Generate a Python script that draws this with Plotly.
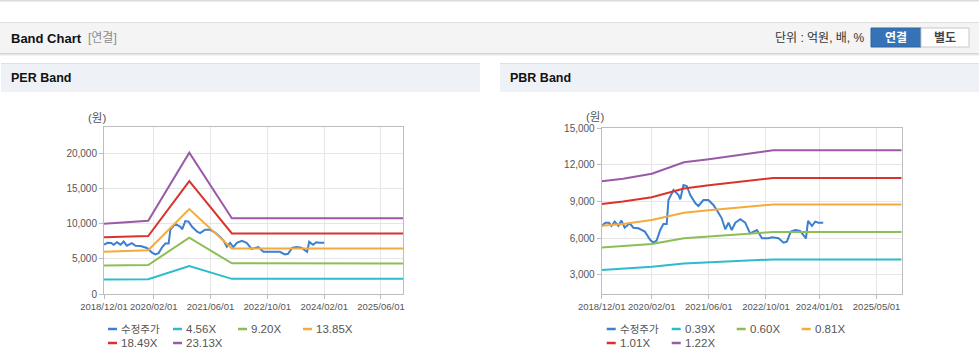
import plotly.graph_objects as go

W, H = 979, 361

# ---------------- data ----------------
price_dates = ["2018-12-01", "2019-01-01", "2019-02-01", "2019-02-22", "2019-03-22", "2019-04-22",
               "2019-05-18", "2019-06-15", "2019-07-28", "2019-08-28", "2019-10-10", "2019-12-04",
               "2020-01-19", "2020-02-15", "2020-03-13", "2020-04-13", "2020-05-10", "2020-06-07",
               "2020-06-22", "2020-08-04", "2020-09-16", "2020-10-01", "2020-10-28", "2020-11-25",
               "2020-12-25", "2021-02-07", "2021-03-04", "2021-04-16", "2021-05-28", "2021-07-10",
               "2021-08-22", "2021-09-19", "2021-10-19", "2021-11-16", "2021-12-13", "2022-01-13",
               "2022-02-25", "2022-04-07", "2022-05-19", "2022-06-16", "2022-07-16", "2022-08-28",
               "2022-10-22", "2022-11-22", "2023-01-16", "2023-02-28", "2023-03-28", "2023-05-01",
               "2023-06-07", "2023-07-19", "2023-08-16", "2023-09-07", "2023-09-25", "2023-10-28",
               "2023-11-25", "2023-12-22", "2024-02-01"]
price_values = [6990, 7260, 7250, 6990, 7345, 7000,
                7430, 6850, 7210, 6850, 6800, 6530,
                5840, 5620, 5800, 6660, 7150, 7150,
                9120, 9940, 9530, 9180, 10350, 10270,
                9530, 8850, 8630, 9120, 9120, 8710,
                8080, 7620, 6720, 7260, 6660, 7260,
                7540, 7260, 6390, 6530, 6660, 5980,
                5980, 6060, 5980, 5620, 5710, 6530,
                6660, 6580, 6250, 5980, 7400, 6990,
                7345, 7260, 7260]

per_band_dates = ["2018-12-01", "2019-12-15", "2020-12-01", "2021-12-01", "2025-12-07"]
per_456 = [2060, 2090, 3970, 2150, 2150]
per_920 = [4030, 4120, 7990, 4350, 4330]
per_1385 = [6000, 6200, 12050, 6470, 6450]
per_1849 = [8040, 8230, 16020, 8600, 8580]
per_2313 = [9970, 10390, 20040, 10730, 10730]

pbr_band_dates = ["2018-12-01", "2019-06-01", "2020-02-01", "2020-11-01", "2021-06-01",
                  "2021-12-01", "2022-09-01", "2022-12-01", "2025-12-01"]
pbr_039 = [3390, 3490, 3650, 3910, 4010, 4100, 4210, 4250, 4250]
pbr_060 = [5220, 5350, 5520, 5980, 6140, 6260, 6430, 6490, 6490]
pbr_081 = [7000, 7150, 7480, 8080, 8280, 8450, 8680, 8760, 8760]
pbr_101 = [8800, 8990, 9340, 10060, 10330, 10540, 10830, 10920, 10920]
pbr_122 = [10650, 10870, 11280, 12210, 12460, 12730, 13080, 13190, 13190]

per_names = ["수정주가", "4.56X", "9.20X", "13.85X", "18.49X", "23.13X"]
pbr_names = ["수정주가", "0.39X", "0.60X", "0.81X", "1.01X", "1.22X"]

per_xtick_vals = ["2018-12-01", "2020-02-01", "2021-06-01", "2022-10-01", "2024-02-01", "2025-06-01"]
per_xtick_text = ["2018/12/01", "2020/02/01", "2021/06/01", "2022/10/01", "2024/02/01", "2025/06/01"]
pbr_xtick_vals = ["2018-12-01", "2020-02-01", "2021-06-01", "2022-10-01", "2024-01-01", "2025-05-01"]
pbr_xtick_text = ["2018/12/01", "2020/02/01", "2021/06/01", "2022/10/01", "2024/01/01", "2025/05/01"]
per_ytick_vals = [0, 5000, 10000, 15000, 20000]
pbr_ytick_vals = [3000, 6000, 9000, 12000, 15000]

colors = ["#3d7fd0", "#2cbccb", "#8dbe55", "#f4aa3c", "#d9332c", "#9a5aa8"]

# ---------------- figure ----------------
def px(x):
    return x / W

def py(y):
    return 1 - y / H

fig = go.Figure()

per_series = [(price_dates, price_values)] + [(per_band_dates, v) for v in
                                              [per_456, per_920, per_1385, per_1849, per_2313]]
pbr_series = [(price_dates, price_values)] + [(pbr_band_dates, v) for v in
                                              [pbr_039, pbr_060, pbr_081, pbr_101, pbr_122]]

for (xs, ys), name, c in zip(per_series, per_names, colors):
    fig.add_trace(go.Scatter(x=xs, y=ys, name=name, mode="lines",
                             line=dict(color=c, width=2), xaxis="x", yaxis="y", showlegend=False))
for (xs, ys), name, c in zip(pbr_series, pbr_names, colors):
    fig.add_trace(go.Scatter(x=xs, y=ys, name=name, mode="lines",
                             line=dict(color=c, width=2), xaxis="x2", yaxis="y2", showlegend=False))

axis_common = dict(showgrid=True, gridcolor="#e6e6e6", gridwidth=1, showline=True,
                   linecolor="#bdbdbd", linewidth=1, mirror=True, ticks="outside",
                   ticklen=4, tickcolor="#bdbdbd", zeroline=False, fixedrange=True)
tick_font_x = dict(family="Liberation Sans, Arial, sans-serif", size=9.5, color="#555")
tick_font_y = dict(family="Liberation Sans, Arial, sans-serif", size=10, color="#555")

fig.update_layout(
    width=W, height=H, autosize=False,
    margin=dict(l=0, r=0, t=0, b=0, pad=0, autoexpand=False),
    paper_bgcolor="white", plot_bgcolor="white",
    xaxis=dict(domain=[px(104), px(403)], type="date", range=["2018-12-01", "2025-12-07"],
               tickvals=per_xtick_vals, ticktext=per_xtick_text, tickfont=tick_font_x,
               tickangle=0, anchor="y", **axis_common),
    yaxis=dict(domain=[py(294), py(127)], range=[0, 23690], tickvals=per_ytick_vals,
               tickformat=",", tickfont=tick_font_y, anchor="x", **axis_common),
    xaxis2=dict(domain=[px(601.7), px(901.7)], type="date", range=["2018-12-01", "2025-12-01"],
                tickvals=pbr_xtick_vals, ticktext=pbr_xtick_text, tickfont=tick_font_x,
                tickangle=0, anchor="y2", **axis_common),
    yaxis2=dict(domain=[py(294), py(128.3)], range=[1412, 15000], tickvals=pbr_ytick_vals,
                tickformat=",", tickfont=tick_font_y, anchor="x2", **axis_common),
    showlegend=False,
)

shapes = []
annots = []

def rect(x0, y0, x1, y1, fill, line=None):
    shapes.append(dict(type="rect", xref="paper", yref="paper", x0=px(x0), x1=px(x1),
                       y0=py(y1), y1=py(y0), fillcolor=fill,
                       line=dict(color=line if line else fill, width=1 if line else 0),
                       layer="below"))

def text(x, y, s, size=12, color="#222", anchor="left", bold=False,
         family="Liberation Sans, Noto Sans CJK KR, sans-serif"):
    annots.append(dict(xref="paper", yref="paper", x=px(x), y=py(y), text=("<b>%s</b>" % s) if bold else s,
                       showarrow=False, xanchor=anchor, yanchor="middle", borderpad=0,
                       font=dict(size=size, color=color, family=family)))

# page decorations
rect(0, 0, 979, 1.5, "#dcdcdc")
rect(0, 22, 979, 53, "#f4f4f4")
rect(0, 22, 979, 23, "#dedede")
rect(0, 53, 979, 54, "#d4d4d4")
rect(0, 54, 979, 55, "#e6e6e6")
rect(0, 55, 979, 56, "#f2f2f2")
text(10, 38, "Band Chart", size=13, color="#111", bold=True)
text(87, 38, "[연결]", size=12, color="#8c8c8c")
text(866, 38, "단위 : 억원, 배, %", size=12, color="#333", anchor="right")
rect(871, 28, 921, 47, "#3573b6", "#2d64a3")
rect(921, 28, 969, 47, "#ffffff", "#c8c8c8")
text(896, 38, "연결", size=12, color="#ffffff", anchor="center", bold=True)
text(945, 38, "별도", size=12, color="#444", anchor="center", bold=True)

rect(1, 63, 480, 92, "#eef1f6")
rect(1, 63, 480, 64, "#dde1e7")
rect(500, 63, 979, 92, "#eef1f6")
rect(500, 63, 979, 64, "#dde1e7")
text(10, 78, "PER Band", size=12.5, color="#111", bold=True)
text(509, 78, "PBR Band", size=12.5, color="#111", bold=True)

text(87, 117, "(원)", size=11.5, color="#555")
text(585, 116, "(원)", size=11.5, color="#555")

# custom legends
def legend(x0, names):
    pos = [(x0, 329), (x0 + 65, 329), (x0 + 130, 329), (x0 + 195, 329), (x0, 343), (x0 + 65, 343)]
    for (lx, ly), name, c in zip(pos, names, colors):
        shapes.append(dict(type="line", xref="paper", yref="paper", x0=px(lx), x1=px(lx + 9),
                           y0=py(ly), y1=py(ly), line=dict(color=c, width=2.5)))
        sz = 10.5 if any(ord(ch) > 0x3000 for ch in name) else 11.5
        text(lx + 12, ly, name, size=sz, color="#555")

legend(108, per_names)
legend(606.7, pbr_names)

fig.update_layout(shapes=shapes, annotations=annots)

fig.write_html("out.html", config={"displayModeBar": False},
               post_script="document.body.style.margin='0px';document.body.style.padding='0px';")
